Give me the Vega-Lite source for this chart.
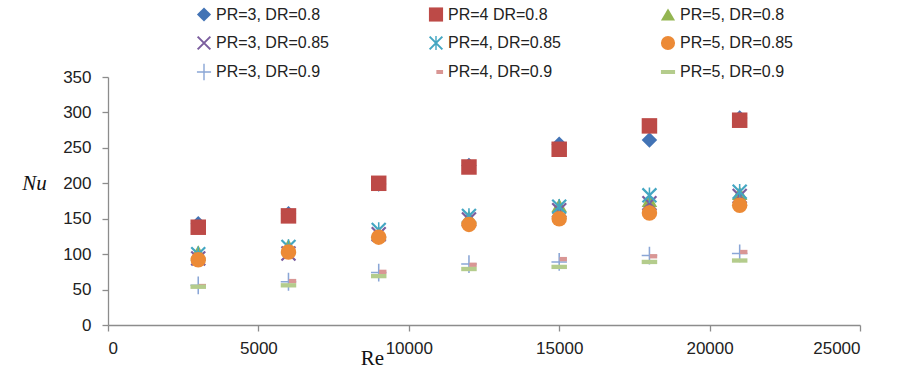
{
  "$schema": "https://vega.github.io/schema/vega-lite/v6.json",
  "autosize": {"type": "none"},
  "width": 752,
  "height": 248,
  "padding": {"left": 108, "top": 77, "right": 40, "bottom": 43},
  "background": "white",
  "config": {
    "view": {"stroke": null},
    "axis": {
      "grid": false,
      "domainColor": "#8c8c8c",
      "tickColor": "#8c8c8c",
      "domainWidth": 1.3,
      "tickWidth": 1.3,
      "tickSize": 6,
      "labelFont": "Liberation Sans",
      "labelFontSize": 17,
      "labelColor": "#222222",
      "titleFont": "Liberation Serif",
      "titleFontSize": 21,
      "titleFontWeight": "normal",
      "titleColor": "#111111"
    }
  },
  "data": {
    "values": [
      {"Re": 3000, "Nu": 143, "s": "PR=3, DR=0.8"},
      {"Re": 6000, "Nu": 157, "s": "PR=3, DR=0.8"},
      {"Re": 9000, "Nu": 199, "s": "PR=3, DR=0.8"},
      {"Re": 12000, "Nu": 225, "s": "PR=3, DR=0.8"},
      {"Re": 15000, "Nu": 255, "s": "PR=3, DR=0.8"},
      {"Re": 18000, "Nu": 261, "s": "PR=3, DR=0.8"},
      {"Re": 21000, "Nu": 292, "s": "PR=3, DR=0.8"},
      {"Re": 3000, "Nu": 138, "s": "PR=4 DR=0.8"},
      {"Re": 6000, "Nu": 154, "s": "PR=4 DR=0.8"},
      {"Re": 9000, "Nu": 200, "s": "PR=4 DR=0.8"},
      {"Re": 12000, "Nu": 223, "s": "PR=4 DR=0.8"},
      {"Re": 15000, "Nu": 248, "s": "PR=4 DR=0.8"},
      {"Re": 18000, "Nu": 281, "s": "PR=4 DR=0.8"},
      {"Re": 21000, "Nu": 289, "s": "PR=4 DR=0.8"},
      {"Re": 3000, "Nu": 103, "s": "PR=5, DR=0.8"},
      {"Re": 6000, "Nu": 112, "s": "PR=5, DR=0.8"},
      {"Re": 9000, "Nu": 130, "s": "PR=5, DR=0.8"},
      {"Re": 12000, "Nu": 152, "s": "PR=5, DR=0.8"},
      {"Re": 15000, "Nu": 169, "s": "PR=5, DR=0.8"},
      {"Re": 18000, "Nu": 176, "s": "PR=5, DR=0.8"},
      {"Re": 21000, "Nu": 186, "s": "PR=5, DR=0.8"},
      {"Re": 3000, "Nu": 94, "s": "PR=3, DR=0.85"},
      {"Re": 6000, "Nu": 101, "s": "PR=3, DR=0.85"},
      {"Re": 9000, "Nu": 128, "s": "PR=3, DR=0.85"},
      {"Re": 12000, "Nu": 149, "s": "PR=3, DR=0.85"},
      {"Re": 15000, "Nu": 162, "s": "PR=3, DR=0.85"},
      {"Re": 18000, "Nu": 172, "s": "PR=3, DR=0.85"},
      {"Re": 21000, "Nu": 182, "s": "PR=3, DR=0.85"},
      {"Re": 3000, "Nu": 100, "s": "PR=4, DR=0.85"},
      {"Re": 6000, "Nu": 110, "s": "PR=4, DR=0.85"},
      {"Re": 9000, "Nu": 134, "s": "PR=4, DR=0.85"},
      {"Re": 12000, "Nu": 154, "s": "PR=4, DR=0.85"},
      {"Re": 15000, "Nu": 167, "s": "PR=4, DR=0.85"},
      {"Re": 18000, "Nu": 183, "s": "PR=4, DR=0.85"},
      {"Re": 21000, "Nu": 188, "s": "PR=4, DR=0.85"},
      {"Re": 3000, "Nu": 92, "s": "PR=5, DR=0.85"},
      {"Re": 6000, "Nu": 103, "s": "PR=5, DR=0.85"},
      {"Re": 9000, "Nu": 124, "s": "PR=5, DR=0.85"},
      {"Re": 12000, "Nu": 142, "s": "PR=5, DR=0.85"},
      {"Re": 15000, "Nu": 150, "s": "PR=5, DR=0.85"},
      {"Re": 18000, "Nu": 158, "s": "PR=5, DR=0.85"},
      {"Re": 21000, "Nu": 169, "s": "PR=5, DR=0.85"},
      {"Re": 3000, "Nu": 56, "s": "PR=3, DR=0.9"},
      {"Re": 6000, "Nu": 61, "s": "PR=3, DR=0.9"},
      {"Re": 9000, "Nu": 74, "s": "PR=3, DR=0.9"},
      {"Re": 12000, "Nu": 86, "s": "PR=3, DR=0.9"},
      {"Re": 15000, "Nu": 89, "s": "PR=3, DR=0.9"},
      {"Re": 18000, "Nu": 98, "s": "PR=3, DR=0.9"},
      {"Re": 21000, "Nu": 101, "s": "PR=3, DR=0.9"},
      {"Re": 3000, "Nu": 55, "s": "PR=4, DR=0.9"},
      {"Re": 6000, "Nu": 62, "s": "PR=4, DR=0.9"},
      {"Re": 9000, "Nu": 75, "s": "PR=4, DR=0.9"},
      {"Re": 12000, "Nu": 85, "s": "PR=4, DR=0.9"},
      {"Re": 15000, "Nu": 93, "s": "PR=4, DR=0.9"},
      {"Re": 18000, "Nu": 97, "s": "PR=4, DR=0.9"},
      {"Re": 21000, "Nu": 103, "s": "PR=4, DR=0.9"},
      {"Re": 3000, "Nu": 54, "s": "PR=5, DR=0.9"},
      {"Re": 6000, "Nu": 56, "s": "PR=5, DR=0.9"},
      {"Re": 9000, "Nu": 69, "s": "PR=5, DR=0.9"},
      {"Re": 12000, "Nu": 79, "s": "PR=5, DR=0.9"},
      {"Re": 15000, "Nu": 82, "s": "PR=5, DR=0.9"},
      {"Re": 18000, "Nu": 89, "s": "PR=5, DR=0.9"},
      {"Re": 21000, "Nu": 91, "s": "PR=5, DR=0.9"}
    ]
  },
  "mark": {"type": "point", "filled": true, "opacity": 1, "size": 240, "strokeWidth": 0},
  "encoding": {
    "x": {
      "field": "Re", "type": "quantitative",
      "scale": {"domain": [0, 25000], "nice": false},
      "axis": {"values": [0, 5000, 10000, 15000, 20000, 25000], "format": "d", "labelPadding": 9,
               "title": "Re", "titleX": 264, "titleY": 43, "titleAnchor": null, "titleAlign": "center", "titleBaseline": "bottom"}
    },
    "y": {
      "field": "Nu", "type": "quantitative",
      "scale": {"domain": [0, 350], "nice": false},
      "axis": {"values": [0, 50, 100, 150, 200, 250, 300, 350], "labelPadding": 11,
               "title": "Nu", "titleAngle": 0, "titleFontStyle": "italic", "titleX": -74, "titleY": 106,
               "titleAlign": "center", "titleBaseline": "middle"}
    },
    "color": {
      "field": "s", "type": "nominal",
      "scale": {
        "domain": ["PR=3, DR=0.8", "PR=4 DR=0.8", "PR=5, DR=0.8", "PR=3, DR=0.85", "PR=4, DR=0.85", "PR=5, DR=0.85", "PR=3, DR=0.9", "PR=4, DR=0.9", "PR=5, DR=0.9"],
        "range": ["#4273b5", "#bd4a47", "#93b551", "#7b5e9e", "#43a6c2", "#ec8a36", "#8aa6d6", "#d99694", "#b4cc8c"]
      },
      "legend": {
        "title": null,
        "orient": "none",
        "direction": "horizontal",
        "legendX": 88,
        "legendY": -71,
        "columns": 3,
        "gridAlign": "all",
        "columnPadding": 99,
        "rowPadding": 11,
        "padding": 0,
        "symbolSize": 200,
        "symbolStrokeWidth": 0,
        "labelFont": "Liberation Sans",
        "labelFontSize": 16,
        "labelColor": "#222222",
        "labelOffset": 4,
        "labelLimit": 300
      }
    },
    "shape": {
      "field": "s", "type": "nominal",
      "scale": {
        "domain": ["PR=3, DR=0.8", "PR=4 DR=0.8", "PR=5, DR=0.8", "PR=3, DR=0.85", "PR=4, DR=0.85", "PR=5, DR=0.85", "PR=3, DR=0.9", "PR=4, DR=0.9", "PR=5, DR=0.9"],
        "range": [
          "diamond",
          "square",
          "triangle-up",
          "M-1,-0.8L-0.8,-1L1,0.8L0.8,1Z M-0.8,1L-1,0.8L0.8,-1L1,-0.8Z",
          "M-1,-0.8L-0.8,-1L1,0.8L0.8,1Z M-0.8,1L-1,0.8L0.8,-1L1,-0.8Z M-0.1,-1L0.1,-1L0.1,1L-0.1,1Z",
          "circle",
          "M-1,-0.1L1,-0.1L1,0.1L-1,0.1Z M-0.1,-1.15L0.1,-1.15L0.1,1.15L-0.1,1.15Z",
          "M0.05,-0.28L1,-0.28L1,0.28L0.05,0.28Z",
          "M-1,-0.28L1,-0.28L1,0.28L-1,0.28Z"
        ]
      }
    }
  }
}
